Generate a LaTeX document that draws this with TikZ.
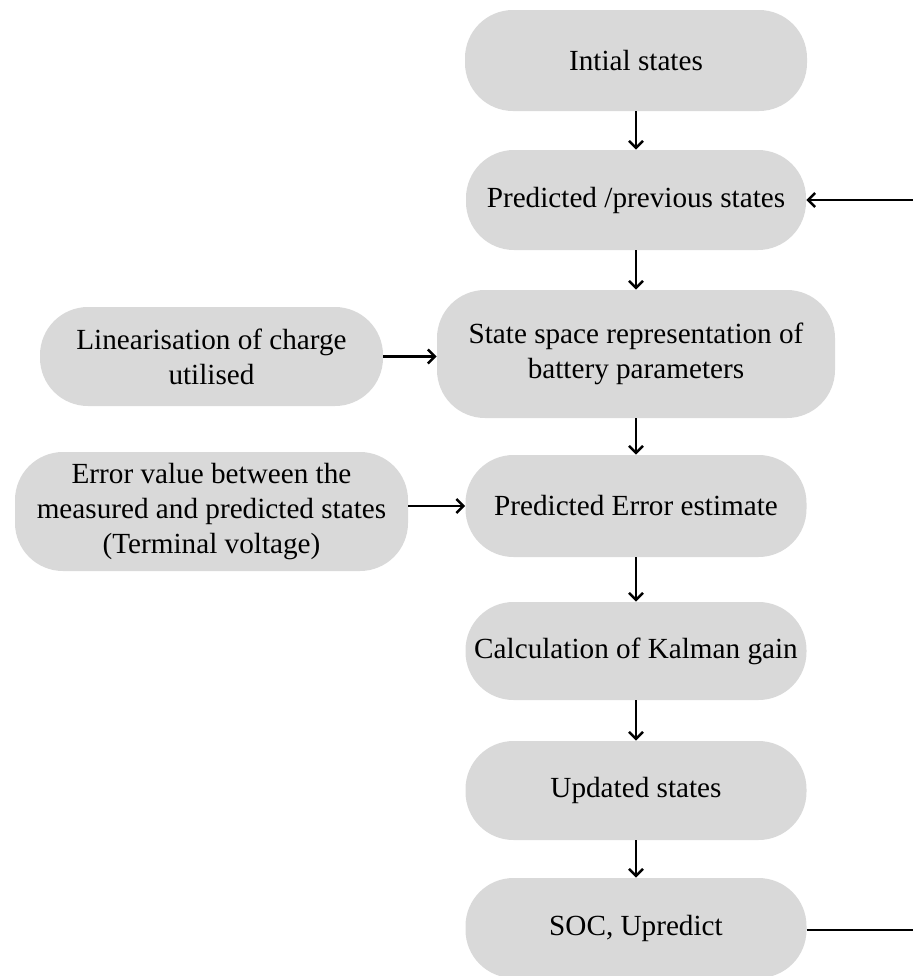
\documentclass[tikz,border=0pt]{standalone}
\usepackage{fontspec}
\setmainfont{Liberation Serif}
\usetikzlibrary{arrows.meta}
\begin{document}
\begin{tikzpicture}[x=0.5pt,y=-0.5pt,
  blk/.style={fill=boxgray,draw=none,rounded corners=24pt,align=center,
    font=\fontsize{14.6}{17.5}\selectfont,inner sep=0pt},
  conn/.style={line width=1.25pt,-{Straight Barb[length=3.5pt,width=7pt,line width=1.2pt]}},
  plainconn/.style={line width=1.25pt}]
\definecolor{boxgray}{HTML}{D9D9D9}
\useasboundingbox (0,0) rectangle (913,976);
\node[blk,minimum width=171pt,minimum height=50.5pt] (init) at (636,60.5) {Intial states};
\node[blk,minimum width=170pt,minimum height=50pt] (pred) at (636,200) {Predicted /previous states};
\node[blk,minimum width=199pt,minimum height=64pt] (ss) at (636,354) {State space representation of\\battery parameters};
\node[blk,minimum width=171.5pt,minimum height=49.5pt] (lin) at (211.5,356.5) {Linearisation of charge\\utilised};
\node[blk,minimum width=170.5pt,minimum height=51pt] (pee) at (636,506) {Predicted Error estimate};
\node[blk,minimum width=196.5pt,minimum height=59.5pt] (err) at (211.5,511.5) {Error value between the\\measured and predicted states\\(Terminal voltage)};
\node[blk,minimum width=170.5pt,minimum height=49pt] (kal) at (636,651) {Calculation of Kalman gain};
\node[blk,minimum width=170.5pt,minimum height=49.5pt] (upd) at (636,790.5) {Updated states};
\node[blk,minimum width=170.5pt,minimum height=50pt] (soc) at (636,928) {SOC, Upredict};
\coordinate (fbtop) at (913,200);
\coordinate (fbbot) at (913,930);
\draw[conn] (init.south) -- (pred.north);
\draw[conn] (pred.south) -- (ss.north);
\draw[conn] (ss.south) -- (pee.north);
\draw[conn] (pee.south) -- (kal.north);
\draw[conn] (kal.south) -- (upd.north);
\draw[conn] (upd.south) -- (soc.north);
\draw[conn] (lin.east) -- (ss.west |- lin.east);
\draw[conn] (err.east |- pee.west) -- (pee.west);
\draw[conn] (fbtop) -- (pred.east);
\draw[plainconn] (soc.east |- fbbot) -- (fbbot);
\end{tikzpicture}
\end{document}
